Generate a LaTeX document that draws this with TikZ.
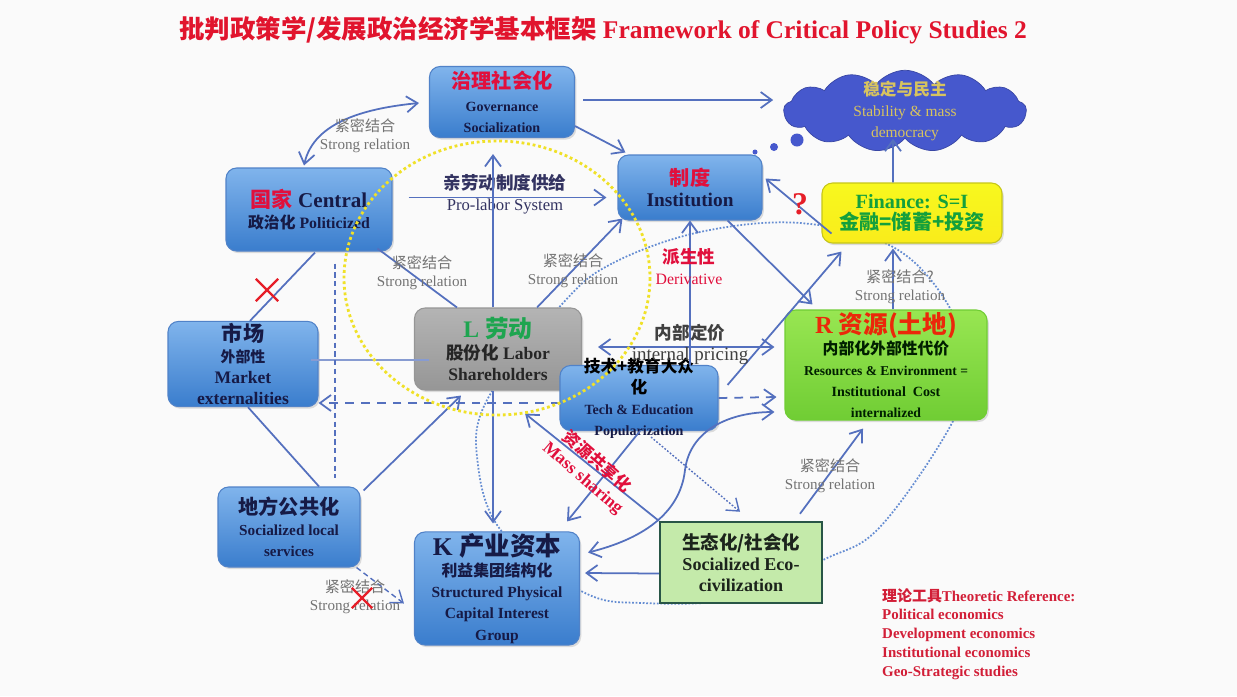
\documentclass[tikz,border=0pt]{standalone}
\usepackage{fontspec}
\setmainfont{Liberation Serif}
\newfontfamily\cjk{Noto Sans CJK SC}
\usetikzlibrary{arrows.meta, calc, shapes.symbols, shapes.misc, shadows}

\newcommand\zh[1]{{\cjk #1}}
\newcommand\fs[2]{\fontsize{#1}{#2}\selectfont}

\definecolor{linkblue}{RGB}{84,112,190}
\definecolor{boxtop}{RGB}{128,180,236}
\definecolor{boxbot}{RGB}{58,125,205}
\definecolor{boxedge}{RGB}{80,130,200}
\definecolor{navy}{RGB}{22,26,70}
\definecolor{hired}{RGB}{225,15,60}
\definecolor{titlered}{RGB}{225,20,45}
\definecolor{relgray}{RGB}{115,115,115}
\definecolor{labtop}{RGB}{180,180,180}
\definecolor{labbot}{RGB}{150,150,150}
\definecolor{lgreen}{RGB}{30,165,80}
\definecolor{restop}{RGB}{152,230,82}
\definecolor{resbot}{RGB}{112,205,52}
\definecolor{rred}{RGB}{235,40,10}
\definecolor{finyel}{RGB}{248,248,30}
\definecolor{fingreen}{RGB}{20,160,60}
\definecolor{ecofill}{RGB}{196,234,170}
\definecolor{ecoedge}{RGB}{40,85,70}
\definecolor{ecotext}{RGB}{28,36,28}
\definecolor{cloudblue}{RGB}{70,88,205}
\definecolor{cloudtext}{RGB}{215,195,95}
\definecolor{refred}{RGB}{210,30,55}
\definecolor{ringyellow}{RGB}{240,225,40}
\definecolor{dotblue}{RGB}{100,140,210}
\definecolor{xred}{RGB}{230,30,40}
\definecolor{bg}{RGB}{250,250,250}

\begin{document}
\begin{tikzpicture}[x=0.2mm, y=-0.2mm,
  >={Straight Barb[length=2.2mm, width=3.2mm]},
  conn/.style={draw=linkblue, line width=1pt},
  box/.style={draw=boxedge, line width=0.6pt, rounded corners=6pt,
    top color=boxtop, bottom color=boxbot, align=center, text=navy,
    font=\bfseries, inner sep=1pt,
    drop shadow={opacity=0.25, shadow xshift=1pt, shadow yshift=-1.2pt}},
  rel/.style={text=relgray, align=center, font=\fs{8.6}{10.2}},
  cross/.style={cross out, draw=xred, line width=1.3pt, minimum size=4mm, inner sep=0pt}]

  \fill[bg] (0,0) rectangle (1237,696);
  \useasboundingbox (0,0) rectangle (1237,696);

  % big dotted loop behind the boxes
  \draw[dotblue, line width=1pt, densely dotted] plot[smooth cycle, tension=0.6] coordinates
    {(563,303) (613,263) (700,232) (800,223) (893,247) (947,303) (965,365) (952,423)
     (880,527) (823,560) (740,598) (643,603) (583,592) (503,533) (478,465) (487,400)};

  % title
  \node[text=titlered, font=\bfseries\fs{14.5}{17}] (title) at (603,30)
    {\zh{批判政策学/发展政治经济学基本框架} Framework of Critical Policy Studies 2};

  % boxes
  \node[box, minimum width=29mm, minimum height=14.2mm] (gov) at (502,102)
    {{\color{hired}\fs{11.5}{13}\zh{治理社会化}}\\[1pt]
     {\fs{8}{9}Governance}\\ {\fs{8}{9}Socialization}};
  \node[cloud, cloud puffs=13, cloud puff arc=105, aspect=3.1, draw=cloudblue!80!black,
    fill=cloudblue, minimum width=48.5mm, minimum height=16.3mm, inner xsep=-2pt, inner ysep=-10pt,
    align=center, text=cloudtext] (cloud) at (905,111)
    {{\bfseries\fs{9.5}{11}\zh{稳定与民主}}\\ {\fs{8.8}{10.5}Stability \& mass}\\ {\fs{8.8}{10.5}democracy}};
  \node[box, minimum width=28.8mm, minimum height=13mm] (inst) at (690,187.5)
    {{\color{hired}\fs{11.5}{14}\zh{制度}}\\ {\fs{11}{13}Institution}};
  \node[box, draw=finyel!80!black, top color=finyel, bottom color=finyel!90!orange,
    text=fingreen, minimum width=36mm, minimum height=12mm] (fin) at (912,213)
    {{\fs{11.5}{13}Finance: S=I}\\ {\fs{11.5}{13}\zh{金融=储蓄+投资}}};
  \node[box, minimum width=33.2mm, minimum height=16.6mm] (cen) at (309,209.5)
    {{\fs{12}{14}\textcolor{hired}{\zh{国家}} Central}\\ {\fs{9}{11}\zh{政治化} Politicized}};
  \node[box, minimum width=30mm, minimum height=16.4mm] (mkt) at (243,364)
    {{\fs{12}{12}\zh{市场}}\\ {\fs{8.5}{12}\zh{外部性}}\\ {\fs{10}{11.5}Market}\\ {\fs{10}{11.5}externalities}};
  \node[box, top color=labtop, bottom color=labbot, draw=labbot, text=black!85,
    minimum width=33.4mm, minimum height=16.4mm] (lab) at (498,349)
    {{\color{lgreen}\fs{13.5}{15}L \zh{劳动}}\\ {\fs{10}{12.5}\zh{股份化} Labor}\\ {\fs{10}{12.5}Shareholders}};
  \node[box, minimum width=31.6mm, inner ysep=-4.5pt] (tech) at (639,398)
    {{\color{black}\fs{9.5}{11.5}\zh{技术+教育大众}}\\ {\color{black}\fs{9.5}{11.5}\zh{化}}\\
     {\fs{8}{10.5}Tech \& Education}\\ {\fs{8}{9}Popularization}};
  \node[box, top color=restop, bottom color=resbot, draw=resbot, text=black!80!green!60!black,
    minimum width=40.4mm, minimum height=22mm] (res) at (886,365)
    {{\color{rred}\fs{14}{15}R \zh{资源(土地)}}\\ {\fs{9}{12}\zh{内部化外部性代价}}\\
     {\fs{7.7}{11}Resources \& Environment =}\\ {\fs{8}{8.5}Institutional\ \ Cost}\\ {\fs{7.8}{8.5}internalized}};
  \node[box, minimum width=28.4mm, minimum height=16mm] (loc) at (289,527)
    {{\fs{11.5}{13}\zh{地方公共化}}\\ {\fs{8.7}{12}Socialized local}\\ {\fs{8.5}{10}services}};
  \node[box, minimum width=33mm, minimum height=20.6mm] (cap) at (497,588.5)
    {{\fs{14.5}{15}K \zh{产业资本}}\\ {\fs{9}{12}\zh{利益集团结构化}}\\
     {\fs{8.8}{10.5}Structured Physical}\\ {\fs{8.8}{10.5}Capital Interest}\\ {\fs{8.8}{10.5}Group}};
  \node[draw=ecoedge, line width=1.4pt, fill=ecofill, minimum width=32.4mm, minimum height=16.2mm,
    align=center, font=\bfseries, text=ecotext] (eco) at (741,562.5)
    {{\fs{10.5}{12}\zh{生态化/社会化}}\\ {\fs{10.3}{11.5}Socialized Eco-}\\ {\fs{10.3}{11.5}civilization}};

  % thought bubbles
  \fill[cloudblue] (797,140) circle[radius=6.5];
  \fill[cloudblue] (774,147) circle[radius=4];
  \fill[cloudblue] (755,152) circle[radius=2.5];

  % upper links
  \draw[conn,->] ($(gov.east)+(8,-2)$) -- ($(cloud.west)+(-10,-11)$);
  \draw[conn,->] ($(gov.south east)+(0,-12)$) -- ($(inst.north west)+(8,-2)$);
  \draw[conn,<->] ($(cen.north)+(-5,-2)$) .. controls +(10,-45) and +(-50,5) .. ($(gov.west)+(-10,1)$);
  \node[rel] (r1) at (365,136) {\zh{紧密结合}\\Strong relation};
  \draw[conn,->] ($(cen.east)+(16,-12)$) -- ($(inst.west)+(-11,10)$);
  \node[align=center, text=black!70!blue!60!gray] (prolab) at (505,194)
    {{\bfseries\fs{10}{12.5}\zh{亲劳动制度供给}}\\ {\fs{9.5}{10}Pro-labor System}};
  \draw[conn,->] ($(lab.north)+(-5,0)$) -- ($(gov.south)+(-9,16)$);
  \draw[conn] ($(cen.south east)+(-15,-3)$) -- ($(lab.north west)+(43,0)$);
  \node[rel] (r2) at (422,273) {\zh{紧密结合}\\Strong relation};
  \draw[conn,->] ($(lab.north east)+(-45,0)$) -- ($(inst.south west)+(5,-2)$);
  \node[rel] (r3) at (573,271) {\zh{紧密结合}\\Strong relation};
  \draw[conn,->] (tech.north -| inst.south) -- (inst.south);
  \node[align=center, text=hired] (deriv) at (689,267)
    {{\bfseries\fs{10}{12.5}\zh{派生性}}\\ {\fs{9}{10}Derivative}};
  \draw[conn,->] ($(inst.south east)+(-35,0)$) -- ($(res.north west)+(28,-5)$);
  \draw[conn,->] ($(tech.north east)+(9,20)$) -- ($(fin.south west)+(20,8)$);
  \draw[conn,->] ($(fin.south west)+(10,-10)$) -- ($(inst.east)+(3,-9)$);
  \node[text=xred, font=\bfseries\fs{18}{20}] (q) at (800,204) {?};
  \draw[conn,->] ($(fin.north)+(-19,0)$) -- ($(cloud.south)+(-12,0)$);
  \draw[conn,->] ($(res.north)+(7,0)$) -- ($(fin.south)+(-19,5)$);
  \node[rel] (r4) at (900,287) {\zh{紧密结合?}\\Strong relation};

  % middle row
  \draw[conn,<->] ($(lab.east)+(16,-2)$) -- ($(res.west)+(-10,-18)$);
  \node[align=center, text=black!75] (price) at (690,344)
    {{\bfseries\fs{10}{12.5}\zh{内部定价}}\\ {\fs{10.8}{11}internal pricing}};
  \draw[line width=0.8pt, draw=linkblue!70] ($(mkt.east)+(-8,-4)$) -- ($(lab.west)+(15,11)$);
  \draw[conn,->,dash pattern=on 5pt off 4pt] ($(tech.west)+(0,5)$) -- ($(mkt.east)+(0,39)$);
  \draw[conn,->,dash pattern=on 5pt off 4pt] (tech.east) -- ($(res.west)+(-8,32)$);
  \draw[conn,line width=0.8pt,densely dashed] ($(cen.south)+(26,12)$) -- ($(loc.north)+(46,-8)$);
  \draw[conn] ($(cen.south)+(6,1)$) -- ($(mkt.north)+(7,0)$);
  \node[cross] (x1) at (267,290) {};

  % lower links
  \draw[conn] ($(mkt.south)+(5,0)$) -- ($(loc.north)+(30,0)$);
  \draw[conn,->] ($(loc.north east)+(3,4)$) -- ($(lab.south west)+(47,5)$);
  \draw[conn,->,line width=0.8pt,densely dashed] ($(loc.south east)+(-4,0)$) -- ($(cap.west)+(-10,15)$);
  \node[rel] (r6) at (355,597) {\zh{紧密结合}\\Strong relation};
  \node[cross, minimum size=3.6mm] (x2) at (362,598) {};
  \draw[conn,->] ($(lab.south)+(-5,0)$) -- ($(cap.north)+(-4,-8)$);
  \draw[conn,->] ($(tech.south)+(1,0)$) -- ($(cap.north east)+(-13,-10)$);
  \draw[conn,->] (eco.north west) -- ($(lab.south east)+(-57,23)$);
  \node[rotate=-41, text=hired, font=\bfseries, align=center] (share) at (590,470)
    {{\fs{9.5}{11}\zh{资源共享化}}\\ {\fs{10}{11}Mass sharing}};
  \coordinate (bend) at (685,470);
  \draw[conn,<->] ($(cap.east)+(8,-36)$) .. controls +(52,-13) and +(-5,45) .. (bend)
    .. controls +(5,-40) and +(-45,0) .. ($(res.west)+(-10,47)$);
  \draw[conn,->] ($(eco.west)+(0,11)$) -- ($(cap.east)+(5,-15.5)$);
  \draw[conn,->] ($(eco.north)+(59,-7)$) -- ($(res.south)+(-23,8)$);
  \node[rel] (r5) at (830,476) {\zh{紧密结合}\\Strong relation};
  \draw[conn,->,densely dotted,line width=0.8pt] ($(tech.south)+(12,6)$) -- ($(eco.north)+(-1,-9)$);

  % yellow ring on top
  \draw[ringyellow, line width=1.6pt, dash pattern=on 1.6pt off 1.6pt] (497,278) ellipse[x radius=153, y radius=137];

  % references
  \node[anchor=north west, align=left, text=refred, font=\bfseries\fs{8.5}{10.7}] (ref) at (876,582)
    {\zh{理论工具}Theoretic Reference:\\ Political economics\\ Development economics\\
     Institutional economics\\ Geo-Strategic studies};
\end{tikzpicture}
\end{document}
